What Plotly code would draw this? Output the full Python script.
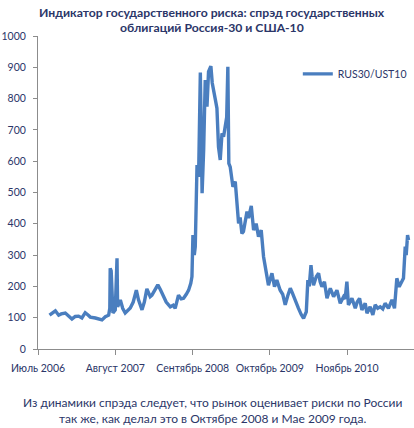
import plotly.graph_objects as go

# spread RUS30/UST10, bp
dates = [
    "2006-08-29", "2006-09-12", "2006-09-28", "2006-10-15", "2006-10-28", "2006-11-18",
    "2006-12-03", "2006-12-22", "2007-01-08", "2007-01-25", "2007-02-11", "2007-02-28",
    "2007-03-16", "2007-03-26", "2007-04-21", "2007-05-06", "2007-05-25", "2007-06-11",
    "2007-06-28", "2007-07-04", "2007-07-06", "2007-07-11", "2007-07-20", "2007-08-01",
    "2007-08-10", "2007-08-13", "2007-08-27", "2007-09-08", "2007-09-21", "2007-10-17",
    "2007-11-01", "2007-11-17", "2007-11-28", "2007-12-16", "2007-12-28", "2008-01-10",
    "2008-01-27", "2008-02-05", "2008-02-17", "2008-03-06", "2008-03-19", "2008-04-04",
    "2008-04-18", "2008-05-09", "2008-05-24", "2008-06-03", "2008-06-20", "2008-07-04",
    "2008-07-16", "2008-07-30", "2008-08-11", "2008-08-22", "2008-08-28", "2008-09-02",
    "2008-09-09", "2008-09-14", "2008-09-23", "2008-10-01", "2008-10-05", "2008-10-10",
    "2008-10-19", "2008-10-27", "2008-11-04", "2008-11-13", "2008-11-21", "2008-12-03",
    "2008-12-10", "2008-12-17", "2008-12-25", "2009-01-03", "2009-01-11", "2009-01-20",
    "2009-01-29", "2009-02-06", "2009-02-15", "2009-02-22", "2009-02-28", "2009-03-05",
    "2009-03-12", "2009-03-26", "2009-04-07", "2009-04-15", "2009-04-24", "2009-05-02",
    "2009-05-11", "2009-05-19", "2009-06-06", "2009-06-14", "2009-06-28", "2009-07-10",
    "2009-07-23", "2009-08-04", "2009-08-18", "2009-08-30", "2009-09-07", "2009-09-16",
    "2009-09-24", "2009-10-12", "2009-10-25", "2009-11-06", "2009-11-23", "2009-12-06",
    "2009-12-19", "2010-01-01", "2010-01-14", "2010-01-24", "2010-02-03", "2010-02-14",
    "2010-02-25", "2010-03-11", "2010-03-23", "2010-04-06", "2010-04-14", "2010-04-21",
    "2010-04-30", "2010-05-06", "2010-05-13", "2010-05-27", "2010-06-08", "2010-06-16",
    "2010-06-25", "2010-07-08", "2010-07-21", "2010-08-07", "2010-08-24", "2010-09-10",
    "2010-09-27", "2010-10-14", "2010-10-22", "2010-10-31", "2010-11-08", "2010-11-26",
    "2010-12-13", "2010-12-23", "2011-01-04", "2011-01-16", "2011-02-02", "2011-02-11",
    "2011-02-27", "2011-03-13", "2011-03-25", "2011-04-07", "2011-04-20", "2011-05-03",
    "2011-05-15", "2011-06-01", "2011-06-19", "2011-07-02", "2011-07-14", "2011-07-26",
    "2011-08-09", "2011-08-17", "2011-08-26", "2011-08-31", "2011-09-07", "2011-09-12",
]
spread = [
    108, 115, 122, 108, 112, 115,
    108, 96, 104, 105, 99, 116,
    108, 102, 99, 97, 93, 103,
    108, 130, 258, 250, 115, 125,
    290, 135, 157, 130, 115, 131,
    150, 188, 157, 125, 150, 192,
    167, 172, 185, 205, 190, 165,
    150, 135, 140, 130, 172, 160,
    162, 175, 188, 210, 231, 364,
    300, 327, 588, 550, 700, 883,
    498, 636, 859, 774, 886, 904,
    850, 817, 800, 769, 646, 604,
    689, 678, 710, 740, 902, 593,
    582, 518, 535, 476, 401, 420,
    369, 375, 439, 418, 457, 380,
    401, 359, 380, 295, 263, 240,
    204, 242, 199, 220, 188, 175,
    141, 170, 194, 180, 162, 150,
    130, 110, 98, 119, 220, 200,
    268, 230, 204, 231, 242, 215,
    199, 215, 162, 194, 167, 188,
    146, 167, 160, 215, 141, 162,
    130, 150, 162, 125, 146, 114,
    135, 109, 141, 130, 135, 128,
    146, 130, 157, 130, 226, 199,
    215, 226, 327, 300, 364, 348,
]

tick_vals = ["2006-07-01", "2007-08-01", "2008-09-01", "2009-10-01", "2010-11-01"]
tick_text = ["Июль 2006", "Август 2007", "Сентябрь 2008", "Октябрь 2009", "Ноябрь 2010"]

title_lines = ["Индикатор государственного риска: спрэд государственных",
               "облигаций Россия-30 и США-10"]
caption_lines = ["Из динамики спрэда следует, что рынок оценивает риски по России",
                 "так же, как делал это в Октябре 2008 и Мае 2009 года."]

navy = "#2b3668"
axis_col = "#8c8c8c"
fnt = "Lato, 'Open Sans', sans-serif"

fig = go.Figure()
fig.add_trace(go.Scatter(
    x=dates,
    y=spread,
    mode="lines",
    line=dict(color="#4a7ebf", width=3.4),
    name="RUS30/UST10"))

fig.update_layout(
    width=414,
    height=428,
    margin={'l': 38, 'b': 79, 't': 36, 'r': 0},
    paper_bgcolor="white",
    plot_bgcolor="white",
    font=dict(family=fnt, size=11, color=navy),
    showlegend=True,
    legend=dict(x=0.691, y=0.879, xanchor="left", yanchor="middle",
                bgcolor="rgba(0,0,0,0)", font=dict(size=10.5, color=navy),
                itemwidth=30),
    xaxis=dict(
        type="date",
        range=["2006-07-01", "2011-10-10"],
        tickvals=tick_vals,
        ticktext=tick_text,
        ticks="outside",
        ticklen=5,
        tickcolor=axis_col,
        ticklabelstandoff=4,
        showline=True,
        linecolor=axis_col,
        showgrid=False,
        zeroline=False,
        tickfont=dict(size=10.5, color=navy),
    ),
    yaxis=dict(
        range=[0, 1000],
        dtick=100,
        ticks="outside",
        ticklen=4,
        tickcolor=axis_col,
        ticklabelstandoff=5,
        showline=True,
        linecolor=axis_col,
        showgrid=False,
        zeroline=False,
        tickfont=dict(size=10.5, color=navy),
    ),
)

# title above the plot, one annotation per line
for txt, shift in zip(title_lines, [24, 9]):
    fig.add_annotation(
        text="<b>" + txt + "</b>",
        xref="paper", yref="paper", x=0.464, y=1.0, yshift=shift,
        xanchor="center", yanchor="middle", showarrow=False,
        font=dict(size=12.2, color=navy, family=fnt))

# caption under the x axis
fig.add_annotation(
    text="<br>".join(caption_lines),
    xref="paper", yref="paper", x=0.465, y=0, yshift=-61,
    xanchor="center", yanchor="middle", showarrow=False, align="center",
    font=dict(size=12, color=navy, family=fnt))

# drop the default body margin so the figure fills the window
fig.write_html("out.html", config={'displayModeBar': False},
               post_script="document.body.style.margin='0';document.body.style.overflow='hidden';")
